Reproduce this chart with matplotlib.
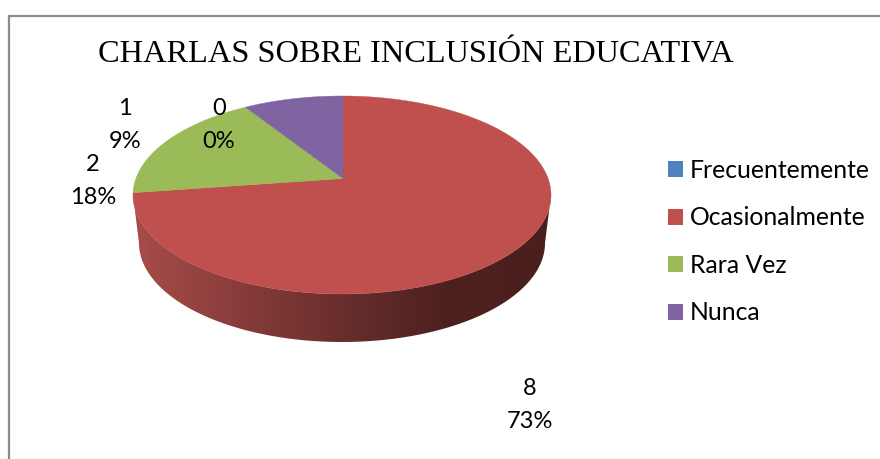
import numpy as np
import matplotlib
matplotlib.use("Agg")
from matplotlib import pyplot as plt
from matplotlib.colors import LinearSegmentedColormap
from matplotlib.patches import Patch, Polygon

TITLE = "CHARLAS SOBRE INCLUSIÓN EDUCATIVA"
categories = ["Frecuentemente", "Ocasionalmente", "Rara Vez", "Nunca"]
values = [0, 8, 2, 1]
colors = ["#4F81BD", "#C0504D", "#9BBB59", "#8064A2"]
label_pos = [(219, 125), (530, 405), (93, 181), (125, 125)]

# pie shape on the page, in pixels
CX, CY, RX, RY = 342, 195, 209, 99
APEX = (343, 178.5)
TILT = 0.47
BOTTOM_CY, BOTTOM_RX = 243, 203


def rim_point(angle):
    # cast a ray from the apex to the rim of the tilted ellipse
    dx, dy = np.sin(angle), -TILT * np.cos(angle)
    ox, oy = (APEX[0] - CX) / RX, (APEX[1] - CY) / RY
    dx, dy = dx * RX / RX, dy * RX / RY
    a = dx * dx + dy * dy
    b = 2 * (ox * dx + oy * dy)
    c = ox * ox + oy * oy - 1
    s = (-b + np.sqrt(b * b - 4 * a * c)) / (2 * a)
    return CX + RX * (ox + s * dx), CY + RY * (oy + s * dy)


fig = plt.figure(figsize=(8.8, 4.59), dpi=100)
ax = fig.add_axes([0, 0, 1, 1])
ax.set_xlim(0, 880)
ax.set_ylim(459, 0)
ax.axis("off")

# chart frame, only left and top fall inside the crop
ax.plot([8.5, 8.5, 880], [459, 15.5, 15.5], color="#8C8C8C", lw=1.6, zorder=1)

# side wall with its shading
t = np.linspace(np.pi, 0, 200)
front = np.column_stack([CX + RX * np.cos(t), CY + RY * np.sin(t)])
base = np.column_stack([CX + BOTTOM_RX * np.cos(t), BOTTOM_CY + RY * np.sin(t)])
wall = Polygon(np.vstack([front, base[::-1]]), transform=ax.transData, fc="none", ec="none")
ax.add_patch(wall)
shade = LinearSegmentedColormap.from_list(
    "wall",
    [(0, "#A84C4A"), (0.33, "#7E3835"), (0.55, "#622C2A"), (0.75, "#4E211F"), (1, "#4B1F1E")],
)
img = ax.imshow(
    np.linspace(0, 1, 256).reshape(1, -1),
    cmap=shade,
    extent=[133, 551, 345, 190],
    aspect="auto",
    zorder=2,
)
img.set_clip_path(wall)
ax.set_xlim(0, 880)
ax.set_ylim(459, 0)

# top face, clockwise from twelve o'clock
total = sum(values)
start = 0
for value, color in zip(values, colors):
    if value > 0:
        angles = np.linspace(start, start + value / total, 240) * 2 * np.pi
        rim = [rim_point(a) for a in angles]
        ax.add_patch(Polygon([APEX] + rim, fc=color, ec=color, lw=0.3, zorder=3))
    start += value / total

ax.text(416, 55, TITLE, family="Liberation Serif", fontsize=23.3, ha="center", va="center", color="black")

for value, pos in zip(values, label_pos):
    ax.text(
        pos[0], pos[1], f"{value}\n{round(100 * value / total)}%",
        family="Lato", fontsize=17, ha="center", va="center", linespacing=1.65, color="black", zorder=5,
    )

handles = [Patch(fc=c, ec="none") for c in colors]
ax.legend(
    handles, categories, loc="upper left", bbox_to_anchor=(668 / 880, 1 - 159 / 459), frameon=False,
    prop={"family": "Lato", "size": 17.8}, handlelength=0.6, handleheight=0.6, handletextpad=0.28,
    labelspacing=0.99, borderpad=0, borderaxespad=0,
)

fig.savefig("out.png", dpi=100)
